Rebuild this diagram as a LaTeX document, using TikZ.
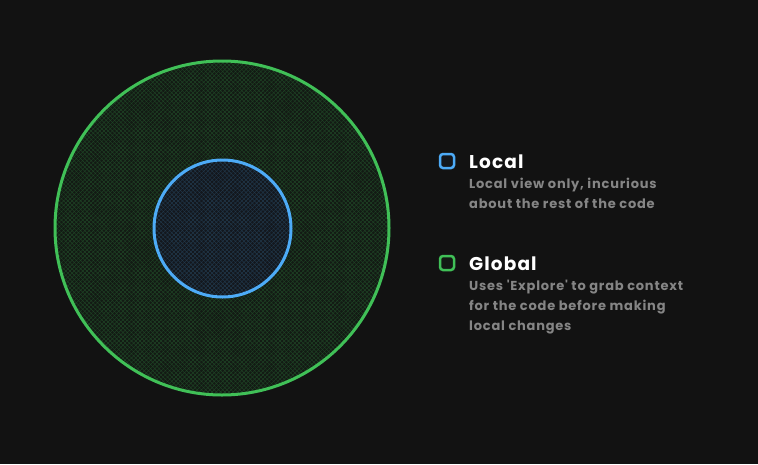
\documentclass[tikz,border=0pt]{standalone}
\usepackage{fontspec}
\setmainfont{Poppins}
\newfontfamily\descfont[LetterSpace=6]{Poppins}
\newfontfamily\titlefont[LetterSpace=6]{Poppins}
\usetikzlibrary{patterns.meta}
\definecolor{bg}{HTML}{121212}
\definecolor{grn}{HTML}{40C057}
\definecolor{blu}{HTML}{4DABF7}
\definecolor{gry}{HTML}{858585}
\definecolor{gfill}{HTML}{131A14}
\definecolor{bfill}{HTML}{13171D}
\tikzset{
  x=1pt,y=-1pt,
  ring/.style={line width=3pt,circle,inner sep=0pt,outer sep=0pt},
  hatch/.style={pattern={Lines[angle=45,distance=3pt,line width=0.5pt]},pattern color=#1},
  hatchb/.style={pattern={Lines[angle=-45,distance=3pt,line width=0.5pt]},pattern color=#1},
  legbox/.style={line width=2.5pt,rounded corners=3pt,minimum size=14pt,inner sep=0pt},
  title/.style={anchor=base west,font=\titlefont\bfseries\fontsize{18.5}{20}\selectfont,text=white,inner sep=0pt},
  desc/.style={anchor=north west,font=\descfont\fontseries{sb}\selectfont\fontsize{13}{20}\selectfont,text=gry,align=left,inner sep=0pt},
}
\begin{document}
\begin{tikzpicture}
\fill[bg] (0,0) rectangle (758,464);
\useasboundingbox (0,0) rectangle (758,464);
% outer circle
\fill[gfill] (222,228) circle[radius=167];
\path[hatch={grn!28!bg}] (222,228) circle[radius=167];
\path[hatchb={grn!28!bg}] (222,228) circle[radius=167];
\node[ring,draw=grn,minimum size=334pt] (outer) at (222,228) {};
% inner circle
\fill[bfill] (222.5,228.5) circle[radius=68.5];
\path[hatch={blu!25!bg}] (222.5,228.5) circle[radius=68.5];
\path[hatchb={blu!25!bg}] (222.5,228.5) circle[radius=68.5];
\node[ring,draw=blu,minimum size=137pt] (inner) at (222.5,228.5) {};
% legend
\node[legbox,draw=blu,fill=bfill] (lbox) at (447,161) {};
\node[title] (ltitle) at (469,168) {Local};
\node[desc] (ldesc) at (469,178) {Local view only, incurious\\about the rest of the code};
\node[legbox,draw=grn,fill=gfill] (gbox) at (447,263) {};
\node[title] (gtitle) at (469,270) {Global};
\node[desc] (gdesc) at (469,280) {Uses \char"27 Explore\char"27{} to grab context\\for the code before making\\local changes};
\end{tikzpicture}
\end{document}
